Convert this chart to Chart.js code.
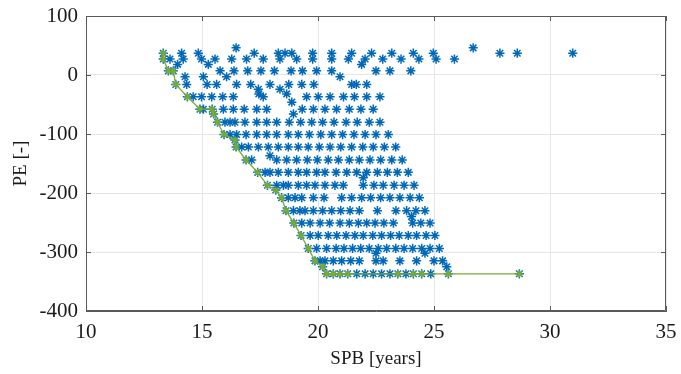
<!DOCTYPE html>
<html>
<head>
<meta charset="utf-8">
<script src="https://cdn.jsdelivr.net/npm/chart.js@4.4.1/dist/chart.umd.min.js"></script>
<style>
html,body{margin:0;padding:0;background:#fff;}
#wrap{width:681px;height:374px;}
</style>
</head>
<body>
<div id="wrap"><canvas id="c" width="681" height="374"></canvas></div>
<script>
// ---- Data ----
const xTicks = [10, 15, 20, 25, 30, 35];
const yTicks = [-400, -300, -200, -100, 0, 100];

// PE levels (rows of the design cloud) and the SPB values found on each row
const peLevels = [46, 37, 27, 18, 7, -3, -16, -24, -32, -37, -46, -58, -66, -80, -101, -110, -122, -137, -144, -165, -174, -187, -195, -208, -230, -240, -251, -272, -294, -302, -315, -325, -337];
const spbByLevel = [
  [16.47, 26.69],
  [13.33, 14.12, 14.84, 17.25, 18.29, 18.58, 18.87, 19.77, 20.59, 21.45, 22.31, 23.18, 24.11, 24.97, 27.84, 28.59, 30.98],
  [13.33, 13.62, 14.19, 14.98, 15.56, 16.28, 16.92, 17.64, 18.36, 19.08, 19.77, 20.59, 21.31, 22.03, 22.79, 23.58, 24.35, 25.09, 25.88],
  [13.95, 15.27, 21.88],
  [13.55, 13.76, 15.78, 16.38, 16.97, 17.54, 18.12, 18.84, 19.33, 19.94, 20.59, 22.50, 23.10, 24.00],
  [14.27, 15.06, 16.06, 20.95],
  [13.87, 14.34, 15.22, 15.63, 16.49, 17.10, 17.93, 18.74, 19.30, 19.82, 21.45, 21.65, 22.10],
  [17.43, 18.36],
  [18.65, 17.45],
  [14.37, 14.62, 14.98, 15.42, 15.89, 16.35, 17.64, 19.51, 20.01, 20.52, 21.10, 21.57, 22.10, 22.67],
  [18.87],
  [14.91, 15.06, 15.44, 15.92, 16.35, 16.82, 17.36, 17.79, 19.32, 19.80, 20.30, 20.80, 21.35, 21.85, 22.38],
  [15.50, 18.94],
  [15.67, 15.99, 16.21, 16.42, 16.85, 17.36, 17.79, 18.22, 18.76, 19.25, 19.73, 20.20, 20.69, 21.21, 21.69, 22.21, 22.67],
  [15.95, 16.21, 16.49, 16.90, 17.36, 17.79, 18.22, 18.72, 19.15, 19.63, 20.12, 20.59, 21.06, 21.55, 22.03, 22.50, 23.03],
  [16.42],
  [16.47, 16.71, 17.00, 17.43, 17.86, 18.29, 18.72, 19.15, 19.58, 20.06, 20.52, 20.98, 21.45, 21.93, 22.38, 22.86, 23.35],
  [17.93],
  [16.90, 17.14, 18.22, 18.65, 19.08, 19.54, 19.97, 20.44, 20.88, 21.35, 21.78, 22.24, 22.70, 23.18, 23.63],
  [17.40, 17.72, 17.93, 18.29, 18.72, 19.15, 19.51, 19.94, 20.30, 20.78, 21.24, 21.67, 22.10, 22.56, 22.99, 23.42, 23.89],
  [21.95],
  [17.82, 18.22, 18.51, 18.72, 19.15, 19.51, 19.87, 20.30, 20.73, 21.09, 21.95, 22.41, 22.81, 23.28, 23.71, 24.14],
  [18.18],
  [18.43, 18.72, 19.01, 19.30, 19.80, 20.26, 21.02, 21.45, 21.88, 22.27, 22.70, 23.10, 23.53, 23.97, 24.37],
  [18.62, 18.94, 19.22, 19.44, 19.80, 20.20, 20.59, 20.98, 21.38, 21.78, 22.56, 23.36, 23.82, 24.22, 24.61],
  [24.03],
  [18.96, 19.30, 19.66, 20.09, 20.50, 20.95, 21.35, 21.74, 22.10, 22.46, 22.84, 23.25, 24.08, 24.43, 24.83],
  [19.27, 19.66, 20.01, 20.44, 20.81, 21.21, 21.59, 21.95, 22.36, 22.74, 23.13, 23.50, 23.89, 24.25, 24.66, 25.04],
  [19.58, 19.94, 20.37, 20.78, 21.12, 21.49, 21.84, 22.21, 22.60, 22.96, 23.35, 23.71, 24.08, 24.47, 24.83, 25.23],
  [22.50, 24.61],
  [19.87, 20.09, 20.30, 20.66, 21.02, 21.41, 21.78, 22.50, 22.81, 23.53, 24.25, 25.00, 25.37],
  [20.20, 25.55],
  [20.37, 20.66, 20.95, 21.28, 21.67, 22.03, 22.38, 22.74, 23.10, 23.44, 23.79, 24.11, 24.47, 24.86, 25.62, 28.68]
];

// Pareto front (green line)
const frontSPB = [13.33, 13.33, 13.55, 13.76, 13.87, 14.37, 14.91, 15.44, 15.50, 15.67, 15.95, 16.42, 16.47, 16.90, 17.40, 17.82, 18.18, 18.43, 18.62, 18.96, 19.27, 19.58, 19.87, 20.20, 20.37, 20.66, 20.95, 21.28, 23.44, 24.11, 24.47, 25.62, 28.68];
const frontPE  = [37, 27, 7, 7, -16, -37, -58, -58, -66, -80, -101, -110, -122, -144, -165, -187, -195, -208, -230, -251, -272, -294, -315, -325, -337, -337, -337, -337, -337, -337, -337, -337, -337];

// ---- Build library data ----
const cloud = [];
peLevels.forEach((pe, i) => spbByLevel[i].forEach(s => cloud.push({x: s, y: pe})));
const front = frontSPB.map((s, i) => ({x: s, y: frontPE[i]}));

const FONT = "'Liberation Serif', 'Times New Roman', serif";
const BLUE = '#0068B8';
const GREEN = '#77AC30';
const AXIS = '#5a5a5a';

const boxPlugin = {
  id: 'matlabBox',
  afterDatasetsDraw(chart) {
    const {ctx, chartArea: a, scales} = chart;
    ctx.save();
    ctx.strokeStyle = AXIS;
    ctx.lineWidth = 1;
    ctx.beginPath();
    ctx.rect(a.left + 0.5, a.top + 0.5, a.right - a.left - 1, a.bottom - a.top - 1);
    ctx.stroke();
    const L = 5;
    ctx.beginPath();
    xTicks.forEach(v => {
      const px = Math.round(scales.x.getPixelForValue(v)) + 0.5;
      ctx.moveTo(px, a.bottom); ctx.lineTo(px, a.bottom - L);
      ctx.moveTo(px, a.top); ctx.lineTo(px, a.top + L);
    });
    yTicks.forEach(v => {
      const py = Math.round(scales.y.getPixelForValue(v)) + 0.5;
      ctx.moveTo(a.left, py); ctx.lineTo(a.left + L, py);
      ctx.moveTo(a.right, py); ctx.lineTo(a.right - L, py);
    });
    ctx.stroke();
    ctx.restore();
  }
};

new Chart(document.getElementById('c'), {
  type: 'scatter',
  data: {
    datasets: [
      {
        label: 'Pareto front',
        data: front,
        showLine: true,
        borderColor: GREEN,
        borderWidth: 1.3,
        pointStyle: 'star',
        pointRadius: 3.5,
        pointBorderColor: GREEN,
        pointBorderWidth: 1.2,
        pointBackgroundColor: GREEN,
        order: 0
      },
      {
        label: 'Designs',
        data: cloud,
        showLine: false,
        pointStyle: 'star',
        pointRadius: 4.6,
        pointBorderColor: BLUE,
        pointBorderWidth: 1.5,
        pointBackgroundColor: BLUE,
        order: 1
      }
    ]
  },
  options: {
    responsive: false,
    animation: false,
    events: [],
    layout: {padding: {top: 16, right: 15, left: 0, bottom: 0}},
    plugins: {legend: {display: false}, tooltip: {enabled: false}},
    scales: {
      x: {
        type: 'linear',
        min: 10, max: 35,
        afterBuildTicks(scale) { scale.ticks = xTicks.map(v => ({value: v})); },
        afterFit(scale) { scale.height = 374 - 311; scale.paddingLeft = 0; scale.paddingRight = 0; },
        ticks: {color: '#1a1a1a', font: {family: FONT, size: 21}, padding: 9, maxRotation: 0},
        grid: {color: '#e6e6e6', drawTicks: false},
        border: {color: AXIS},
        title: {display: true, text: 'SPB [years]', color: '#1a1a1a', font: {family: FONT, size: 19}, padding: {top: 0, bottom: 4}}
      },
      y: {
        type: 'linear',
        min: -400, max: 100,
        afterBuildTicks(scale) { scale.ticks = yTicks.map(v => ({value: v})); },
        afterFit(scale) { scale.width = 86; scale.paddingTop = 0; scale.paddingBottom = 0; },
        ticks: {color: '#1a1a1a', font: {family: FONT, size: 21}, padding: 8},
        grid: {color: '#e6e6e6', drawTicks: false},
        border: {color: AXIS},
        title: {display: true, text: 'PE [-]', color: '#1a1a1a', font: {family: FONT, size: 19}, padding: {top: 10, bottom: 0}}
      }
    }
  },
  plugins: [boxPlugin]
});
</script>
</body>
</html>
